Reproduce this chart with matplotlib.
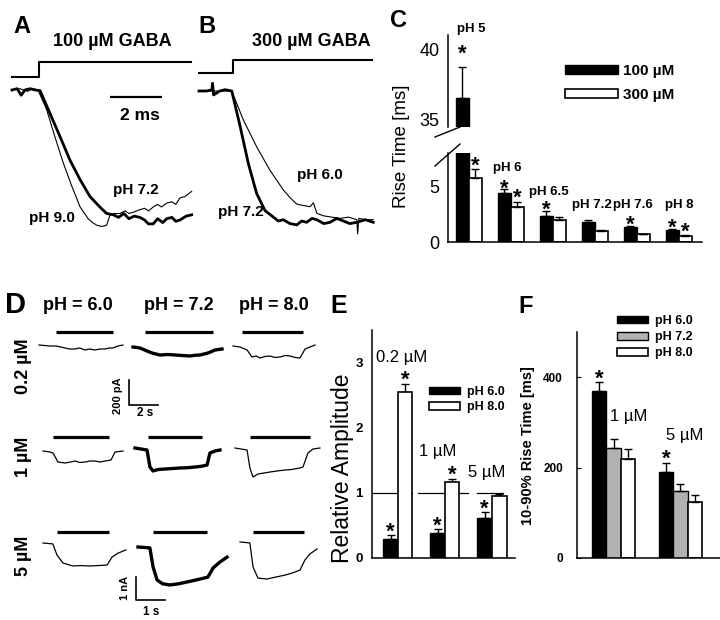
import matplotlib
matplotlib.use('Agg')
import matplotlib.pyplot as plt
from matplotlib.patches import Patch
from matplotlib.lines import Line2D
import numpy as np

plt.rcParams['font.family'] = ['Liberation Sans', 'DejaVu Sans']

# ---------------- data ----------------
# Panel A: 100 uM GABA, time (ms), current normalised to peak
a_t_ph90 = [0.0, 0.3, 0.6, 0.8, 1.01, 1.33, 1.65, 1.97, 2.30, 2.62, 2.93, 3.1, 3.26, 3.45, 3.64, 3.77, 3.95,
            4.15, 4.35, 4.5, 4.67, 4.92, 5.1, 5.25, 5.43, 5.6, 5.75, 5.95, 6.15, 6.3, 6.46, 6.65, 6.91]
a_i_ph90 = [0.0, 0.01, -0.01, 0.01, -0.005, -0.15, -0.36, -0.56, -0.74, -0.90, -0.99, -1.02, -1.04, -1.05, -1.04,
            -0.96, -0.95, -0.95, -0.93, -0.95, -0.94, -0.92, -0.91, -0.93, -0.90, -0.88, -0.90, -0.87, -0.86, -0.88,
            -0.83, -0.82, -0.78]
a_t_ph72 = [0.0, 0.2, 0.35, 0.5, 0.7, 0.9, 1.08, 1.46, 1.85, 2.23, 2.62, 3.0, 3.38, 3.64, 3.9, 4.1, 4.3, 4.5,
            4.7, 4.92, 5.1, 5.25, 5.43, 5.6, 5.8, 5.95, 6.15, 6.3, 6.46, 6.7, 6.91]
a_i_ph72 = [0.0, 0.01, -0.04, 0.0, 0.01, 0.0, -0.005, -0.18, -0.36, -0.54, -0.69, -0.82, -0.90, -0.95, -0.96,
            -0.98, -0.95, -0.99, -0.97, -0.98, -1.0, -1.03, -1.03, -0.99, -1.02, -0.99, -0.98, -1.01, -1.0, -0.97, -0.96]
a_step_t = [0.0, 1.05, 1.05, 6.9]
a_step_on = [0, 0, 1, 1]

# Panel B: 300 uM GABA
b_t_ph72 = [0.0, 0.3, 0.5, 0.52, 0.56, 0.8, 1.0, 1.26, 1.58, 1.90, 2.22, 2.54, 2.86, 3.05, 3.24, 3.5, 3.76,
            3.95, 4.14, 4.35, 4.53, 4.8, 5.04, 5.3, 5.55, 5.8, 6.07, 6.4, 6.70]
b_i_ph72 = [0.0, 0.0, 0.01, 0.06, -0.03, 0.0, 0.01, 0.0, -0.27, -0.56, -0.79, -0.92, -0.97, -1.0, -0.99, -1.02,
            -1.03, -1.0, -1.01, -0.98, -0.99, -1.02, -1.01, -0.98, -1.0, -1.02, -1.01, -0.99, -1.01]
b_t_ph60 = [0.0, 1.26, 1.70, 2.22, 2.73, 3.24, 3.5, 3.76, 4.0, 4.27, 4.4, 4.53, 4.78, 5.1, 5.42, 5.75, 6.07,
            6.1, 6.15, 6.4, 6.70]
b_i_ph60 = [0.0, 0.0, -0.22, -0.43, -0.61, -0.76, -0.82, -0.87, -0.88, -0.89, -0.86, -0.94, -0.96, -0.97, -0.98,
            -0.97, -0.99, -1.1, -0.98, -0.99, -0.99]
b_step_t = [0.0, 1.31, 1.31, 6.65]
b_step_on = [0, 0, 1, 1]
scale_ms = 2

# Panel C: rise time (ms)
c_groups = ['pH 5', 'pH 6', 'pH 6.5', 'pH 7.2', 'pH 7.6', 'pH 8']
c_100 = [36.6, 4.35, 2.35, 1.75, 1.35, 1.05]
c_100_err = [2.2, 0.35, 0.45, 0.2, 0.1, 0.15]
c_300 = [5.7, 3.1, 2.0, 1.0, 0.7, 0.55]
c_300_err = [0.8, 0.5, 0.2, 0.05, 0.05, 0.05]
c_100_sig = [True, True, True, False, True, True]
c_300_sig = [True, True, False, False, False, True]

# Panel D: traces, time (s) / current (pA for 0.2 and 1 uM, nA for 5 uM)
d_ph = ['pH = 6.0', 'pH = 7.2', 'pH = 8.0']
d_conc = ['0.2 µM', '1 µM', '5 µM']
d02_60_t = [0, 0.76, 1.17, 1.5, 1.79, 2.1, 2.48, 2.8, 3.17, 3.5, 3.86, 4.2, 4.55, 4.85, 5.10, 5.45, 5.79]
d02_60_i = [0, -8, -8, -16, -24, -32, -32, -24, -40, -32, -40, -32, -32, -24, -24, -8, 0]
d02_72_t = [0, 0.48, 0.97, 1.31, 1.86, 2.4, 2.9, 3.4, 3.93, 4.3, 4.62, 5.17, 5.66, 6.14]
d02_72_i = [0, -8, -32, -48, -64, -60, -64, -68, -72, -66, -64, -48, -24, -16]
d02_80_t = [0, 0.48, 0.97, 1.31, 1.6, 1.86, 2.2, 2.55, 2.9, 3.24, 3.6, 3.93, 4.3, 4.62, 4.97, 5.31, 5.66]
d02_80_i = [0, -8, -32, -88, -80, -96, -84, -80, -92, -88, -76, -80, -92, -96, -24, -8, 8]
d1_60_t = [0, 0.48, 0.69, 1.03, 1.52, 1.9, 2.21, 2.55, 2.9, 3.25, 3.59, 3.95, 4.28, 4.69, 4.97, 5.52]
d1_60_i = [0, -8, -16, -88, -96, -88, -80, -92, -88, -80, -80, -88, -80, -72, -8, 0]
d1_72_t = [0, 0.83, 1.03, 1.24, 1.6, 2.07, 2.6, 3.10, 3.6, 4.14, 4.6, 4.97, 5.17, 5.52, 5.86]
d1_72_i = [0, -16, -152, -184, -172, -168, -164, -160, -158, -152, -146, -136, -40, -24, -16]
d1_80_t = [0, 0.83, 1.03, 1.24, 1.59, 2.0, 2.41, 2.9, 3.45, 3.9, 4.48, 4.69, 5.03, 5.38, 5.86]
d1_80_i = [0, -16, -160, -232, -208, -200, -192, -184, -176, -172, -160, -152, -40, -8, 0]
d5_60_t = [0, 0.34, 0.48, 0.69, 1.03, 1.3, 1.62, 1.9, 2.21, 2.38, 2.59, 2.86]
d5_60_i = [0, -0.04, -0.52, -0.87, -1.0, -0.98, -1.0, -0.98, -0.96, -0.61, -0.44, -0.30]
d5_72_t = [0, 0.41, 0.52, 0.66, 0.85, 1.10, 1.4, 1.69, 2.05, 2.41, 2.59, 2.83, 3.07]
d5_72_i = [0, -0.04, -0.87, -1.44, -1.6, -1.65, -1.6, -1.52, -1.42, -1.31, -0.91, -0.65, -0.44]
d5_80_t = [0, 0.34, 0.45, 0.62, 0.93, 1.25, 1.55, 1.8, 2.07, 2.24, 2.41, 2.66]
d5_80_i = [0, -0.04, -1.09, -1.57, -1.61, -1.52, -1.44, -1.35, -1.22, -0.78, -0.52, -0.30]
d02_app = [(1.17, 5.10), (0.83, 5.52), (0.62, 4.83)]
d1_app = [(0.69, 4.55), (0.90, 4.62), (1.03, 5.17)]
d5_app = [(0.48, 2.28), (0.52, 2.38), (0.45, 2.21)]
scale_pA, scale_s = 200, 2
scale_nA, scale_s2 = 1, 1

# Panel E: relative amplitude
e_conc = ['0.2 µM', '1 µM', '5 µM']
e_ph60 = [0.29, 0.38, 0.61]
e_ph60_err = [0.06, 0.06, 0.09]
e_ph80 = [2.55, 1.16, 0.95]
e_ph80_err = [0.12, 0.06, 0.04]
e_sig60 = [True, True, True]
e_sig80 = [True, True, False]

# Panel F: 10-90% rise time (ms)
f_conc = ['1 µM', '5 µM']
f_ph60 = [369, 190]
f_ph60_err = [20, 20]
f_ph72 = [243, 149]
f_ph72_err = [20, 14]
f_ph80 = [219, 124]
f_ph80_err = [22, 15]
f_sig60 = [True, True]

# ---------------- layout helpers ----------------
W, H = 720, 620
fig = plt.figure(figsize=(7.2, 6.2), dpi=100)


def px_axes(x0, y0, x1, y1):
    return fig.add_axes([x0 / W, 1 - y1 / H, (x1 - x0) / W, (y1 - y0) / H])


def ftext(x, y, s, **kw):
    fig.text(x / W, 1 - y / H, s, **kw)


def fline(xs, ys, **kw):
    fig.add_artist(Line2D([x / W for x in xs], [1 - y / H for y in ys], transform=fig.transFigure, **kw))


def star(ax, x, ytop, pad_px=10, size=16):
    # ink centre of the asterisk pad_px above ytop
    off = pad_px * 0.72 - 0.59 * size
    ax.annotate('*', (x, ytop), xytext=(0, off), textcoords='offset points',
                ha='center', va='baseline', fontsize=size, fontweight='bold', annotation_clip=False)


# ---------------- panels A & B ----------------
axA = px_axes(0, 50, 200, 240)
axA.set_xlim(-12 / 26, 188 / 26)
axA.set_ylim(-150 / 130, 40 / 130)
axA.axis('off')
lvA = [0.10 + 0.115 * s for s in a_step_on]
axA.plot(a_step_t, lvA, color='k', lw=1.5)
axA.plot(a_t_ph90, a_i_ph90, color='k', lw=0.8)
axA.plot(a_t_ph72, a_i_ph72, color='k', lw=2.0)
axA.plot([3.77, 3.77 + scale_ms], [-0.054, -0.054], color='k', lw=1.6, solid_capstyle='butt')

axB = px_axes(190, 50, 380, 240)
axB.set_xlim(-9 / 26, 181 / 26)
axB.set_ylim(-149 / 130, 41 / 130)
axB.axis('off')
lvB = [0.142 + 0.10 * s for s in b_step_on]
axB.plot(b_step_t, lvB, color='k', lw=1.5)
axB.plot(b_t_ph60, b_i_ph60, color='k', lw=0.8)
axB.plot(b_t_ph72, b_i_ph72, color='k', lw=2.0)

ftext(13, 33, 'A', fontsize=17, fontweight='bold', va='baseline')
ftext(198, 33, 'B', fontsize=17, fontweight='bold', va='baseline')
ftext(390, 27, 'C', fontsize=17, fontweight='bold', va='baseline')
ftext(112, 42, '100 µM GABA', fontsize=13, fontweight='bold', ha='center', va='center')
ftext(311, 42, '300 µM GABA', fontsize=13, fontweight='bold', ha='center', va='center')
ftext(140, 116, '2 ms', fontsize=12.5, fontweight='bold', ha='center', va='center')
ftext(136, 190, 'pH 7.2', fontsize=11, fontweight='bold', ha='center', va='center')
ftext(52, 218, 'pH 9.0', fontsize=11, fontweight='bold', ha='center', va='center')
ftext(320, 175, 'pH 6.0', fontsize=11, fontweight='bold', ha='center', va='center')
ftext(241, 212, 'pH 7.2', fontsize=11, fontweight='bold', ha='center', va='center')

# ---------------- panel C ----------------
xc = np.arange(len(c_groups))
bw = 0.31
zc = np.zeros(len(c_groups))
axCl = px_axes(448, 153, 702, 242)
axCu = px_axes(448, 35, 702, 127)
for ax in (axCl, axCu):
    ax.bar(xc - bw / 2, c_100, bw, color='k', edgecolor='k', lw=1)
    ax.bar(xc + bw / 2, c_300, bw, color='w', edgecolor='k', lw=1.2)
    ax.errorbar(xc - bw / 2, c_100, yerr=[zc, c_100_err], fmt='none', ecolor='k', elinewidth=1, capsize=3, capthick=1)
    ax.errorbar(xc + bw / 2, c_300, yerr=[zc, c_300_err], fmt='none', ecolor='k', elinewidth=1, capsize=3, capthick=1)
    ax.set_xlim(-0.5, 5.55)
    ax.set_xticks([])
    for s in ('top', 'right'):
        ax.spines[s].set_visible(False)
    for s in ('left', 'bottom'):
        ax.spines[s].set_linewidth(1.1)
    ax.tick_params(axis='y', length=0, pad=6, labelsize=13)
    ax.patch.set_alpha(0)
axCu.spines['bottom'].set_visible(False)
axCl.set_ylim(0, 7.95)
axCu.set_ylim(34.5, 41.07)
axCl.set_yticks([0, 5])
axCu.set_yticks([35, 40])
fline([435, 460], [137, 127], color='k', lw=1)
fline([435, 460], [166, 144], color='k', lw=1)
ftext(402, 146, 'Rise Time [ms]', fontsize=13.5, rotation=90, ha='center', va='center')

for i in range(len(c_groups)):
    if c_100_sig[i]:
        top = c_100[i] + c_100_err[i]
        ax = axCu if top > 30 else axCl
        star(ax, xc[i] - bw / 2, top, pad_px=20 if top > 30 else 8)
    if c_300_sig[i]:
        top = c_300[i] + c_300_err[i]
        star(axCl, xc[i] + bw / 2, top, pad_px=11)
c_lab_x = [0.05, 0.9, 1.9, 2.93, 3.9, 5.0]
c_lab_y = [41.5, 6.6, 4.5, 3.3, 3.3, 3.3]
for i, g in enumerate(c_groups):
    ax = axCu if i == 0 else axCl
    ax.text(c_lab_x[i], c_lab_y[i], g, fontsize=9.5, fontweight='bold', ha='center', va='center', clip_on=False)
axCu.legend(handles=[Patch(facecolor='k', edgecolor='k', lw=1), Patch(facecolor='w', edgecolor='k', lw=1.2)],
            labels=['100 µM', '300 µM'], loc='upper left', bbox_to_anchor=(565 / W, 1 - 64 / H),
            bbox_transform=fig.transFigure, frameon=False, borderpad=0, borderaxespad=0,
            handlelength=3.46, handleheight=0.59, handletextpad=0.35, labelspacing=0.65,
            prop={'size': 11, 'weight': 'bold'})

# ---------------- panel D ----------------
ftext(5, 313, 'D', fontsize=21, fontweight='bold', va='baseline')
d_head_x = [78, 179, 274]
for j, s in enumerate(d_ph):
    ftext(d_head_x[j], 310, s, fontsize=13, fontweight='bold', ha='center', va='baseline')
d_row_y = [366, 457, 556]
for r, s in enumerate(d_conc):
    ftext(24, d_row_y[r], s, fontsize=13, fontweight='bold', rotation=90, ha='center', va='center')

d_traces = [[(d02_60_t, d02_60_i), (d02_72_t, d02_72_i), (d02_80_t, d02_80_i)],
            [(d1_60_t, d1_60_i), (d1_72_t, d1_72_i), (d1_80_t, d1_80_i)],
            [(d5_60_t, d5_60_i), (d5_72_t, d5_72_i), (d5_80_t, d5_80_i)]]
d_apps = [d02_app, d1_app, d5_app]
d_origin = [[(39, 345), (133, 347), (233, 346)],
            [(43, 451), (135, 448), (235, 448)],
            [(43, 543), (138, 547), (240, 542)]]
d_bar_y = [332, 436.5, 532]
sx = [14.5, 14.5, 29.0]          # px per second
sy = [8.0, 8.0, 1 / 23.0]        # current units per px
for r in range(3):
    for c in range(3):
        x0, y0 = d_origin[r][c]
        ax = px_axes(x0 - 10, y0 - 25, x0 + 100, y0 + 45)
        ax.set_xlim(-10 / sx[r], 100 / sx[r])
        ax.set_ylim(-45 * sy[r], 25 * sy[r])
        ax.axis('off')
        t, cur = d_traces[r][c]
        ax.plot(t, cur, color='k', lw=2.4 if c == 1 else 0.9)
        a0, a1 = d_apps[r][c]
        lvl = (y0 - d_bar_y[r]) * sy[r]
        ax.plot([a0, a1], [lvl, lvl], color='k', lw=2.3, solid_capstyle='butt')

sb1 = px_axes(129, 380, 158, 405)
sb1.set_xlim(0, scale_s)
sb1.set_ylim(0, scale_pA)
sb1.axis('off')
sb1.plot([0, 0, scale_s], [scale_pA, 0, 0], color='k', lw=1.2, clip_on=False)
ftext(118, 396, '200 pA', fontsize=8, fontweight='bold', rotation=90, ha='center', va='center')
ftext(145, 413, '2 s', fontsize=8.5, fontweight='bold', ha='center', va='center')
sb2 = px_axes(136, 577, 165, 600)
sb2.set_xlim(0, scale_s2)
sb2.set_ylim(0, scale_nA)
sb2.axis('off')
sb2.plot([0, 0, scale_s2], [scale_nA, 0, 0], color='k', lw=1.2, clip_on=False)
ftext(125, 588, '1 nA', fontsize=8, fontweight='bold', rotation=90, ha='center', va='center')
ftext(151, 612, '1 s', fontsize=8.5, fontweight='bold', ha='center', va='center')

# ---------------- panel E ----------------
ftext(330, 313, 'E', fontsize=18, fontweight='bold', va='baseline')
axE = px_axes(372, 330, 515, 558)
xe = np.arange(len(e_conc))
be = 0.31
ze = np.zeros(len(e_conc))
axE.bar(xe - be / 2, e_ph60, be, color='k', edgecolor='k', lw=1, zorder=3)
axE.bar(xe + be / 2, e_ph80, be, color='w', edgecolor='k', lw=1.2, zorder=3)
axE.errorbar(xe - be / 2, e_ph60, yerr=[ze, e_ph60_err], fmt='none', ecolor='k', elinewidth=1, capsize=3, zorder=2)
axE.errorbar(xe + be / 2, e_ph80, yerr=[ze, e_ph80_err], fmt='none', ecolor='k', elinewidth=1, capsize=3, zorder=2)
for (s0, s1) in [(-0.55, 0.30), (0.43, 1.49), (1.68, 2.23)]:
    axE.plot([s0, s1], [1, 1], color='k', lw=0.9, zorder=1)
axE.set_xlim(-0.55, 2.49)
axE.set_ylim(0, 3.5)
axE.set_xticks([])
axE.set_yticks([0, 1, 2, 3])
axE.tick_params(axis='y', length=0, pad=6.5)
for lab in axE.get_yticklabels():
    lab.set_fontsize(9.5)
    lab.set_fontweight('bold')
for s in ('top', 'right'):
    axE.spines[s].set_visible(False)
for s in ('left', 'bottom'):
    axE.spines[s].set_linewidth(1.1)
axE.patch.set_alpha(0)
for i in range(len(e_conc)):
    if e_sig60[i]:
        star(axE, xe[i] - be / 2, e_ph60[i] + e_ph60_err[i], pad_px=11)
    if e_sig80[i]:
        star(axE, xe[i] + be / 2, e_ph80[i] + e_ph80_err[i], pad_px=11)
e_lab_x = [0.09, 0.85, 1.89]
e_lab_y = [3.08, 1.63, 1.31]
for i, s in enumerate(e_conc):
    axE.text(e_lab_x[i], e_lab_y[i], s, fontsize=12, ha='center', va='center')
ftext(342, 468, 'Relative Amplitude', fontsize=16.5, rotation=90, ha='center', va='center')
axE.legend(handles=[Patch(facecolor='k', edgecolor='k', lw=1), Patch(facecolor='w', edgecolor='k', lw=1.2)],
           labels=['pH 6.0', 'pH 8.0'], loc='upper left', bbox_to_anchor=(429 / W, 1 - 386 / H),
           bbox_transform=fig.transFigure, frameon=False, borderpad=0, borderaxespad=0,
           handlelength=2.48, handleheight=0.56, handletextpad=0.56, labelspacing=0.25,
           prop={'size': 9, 'weight': 'bold'})

# ---------------- panel F ----------------
ftext(518, 313, 'F', fontsize=17, fontweight='bold', va='baseline')
axF = px_axes(577, 332, 720, 558)
xf = np.arange(len(f_conc))
bf = 0.21
zf = np.zeros(len(f_conc))
gray = '#b2b2b2'
axF.bar(xf - bf, f_ph60, bf, color='k', edgecolor='k', lw=1)
axF.bar(xf, f_ph72, bf, color=gray, edgecolor='k', lw=1)
axF.bar(xf + bf, f_ph80, bf, color='w', edgecolor='k', lw=1.2)
for off, v, e in [(-bf, f_ph60, f_ph60_err), (0, f_ph72, f_ph72_err), (bf, f_ph80, f_ph80_err)]:
    axF.errorbar(xf + off, v, yerr=[zf, e], fmt='none', ecolor='k', elinewidth=1, capsize=3)
axF.set_xlim(-0.545, 1.59)
axF.set_ylim(0, 500)
axF.set_xticks([])
axF.set_yticks([0, 200, 400])
axF.tick_params(axis='y', direction='in', length=3, pad=10)
for lab in axF.get_yticklabels():
    lab.set_fontsize(8.5)
    lab.set_fontweight('bold')
for s in ('top', 'right'):
    axF.spines[s].set_visible(False)
for s in ('left', 'bottom'):
    axF.spines[s].set_linewidth(1.1)
axF.patch.set_alpha(0)
for i in range(len(f_conc)):
    if f_sig60[i]:
        star(axF, xf[i] - bf, f_ph60[i] + f_ph60_err[i], pad_px=11)
f_lab_x = [0.23, 1.07]
f_lab_y = [312, 270]
for i, s in enumerate(f_conc):
    axF.text(f_lab_x[i], f_lab_y[i], s, fontsize=12, ha='center', va='center')
ftext(528, 446, '10-90% Rise Time [ms]', fontsize=10.5, fontweight='bold', rotation=90, ha='center', va='center')
axF.legend(handles=[Patch(facecolor='k', edgecolor='k', lw=1), Patch(facecolor=gray, edgecolor='k', lw=1),
                    Patch(facecolor='w', edgecolor='k', lw=1.2)],
           labels=['pH 6.0', 'pH 7.2', 'pH 8.0'], loc='upper left', bbox_to_anchor=(617 / W, 1 - 315 / H),
           bbox_transform=fig.transFigure, frameon=False, borderpad=0, borderaxespad=0,
           handlelength=2.48, handleheight=0.56, handletextpad=0.56, labelspacing=0.33,
           prop={'size': 9, 'weight': 'bold'})

fig.savefig('out.png', dpi=100)
